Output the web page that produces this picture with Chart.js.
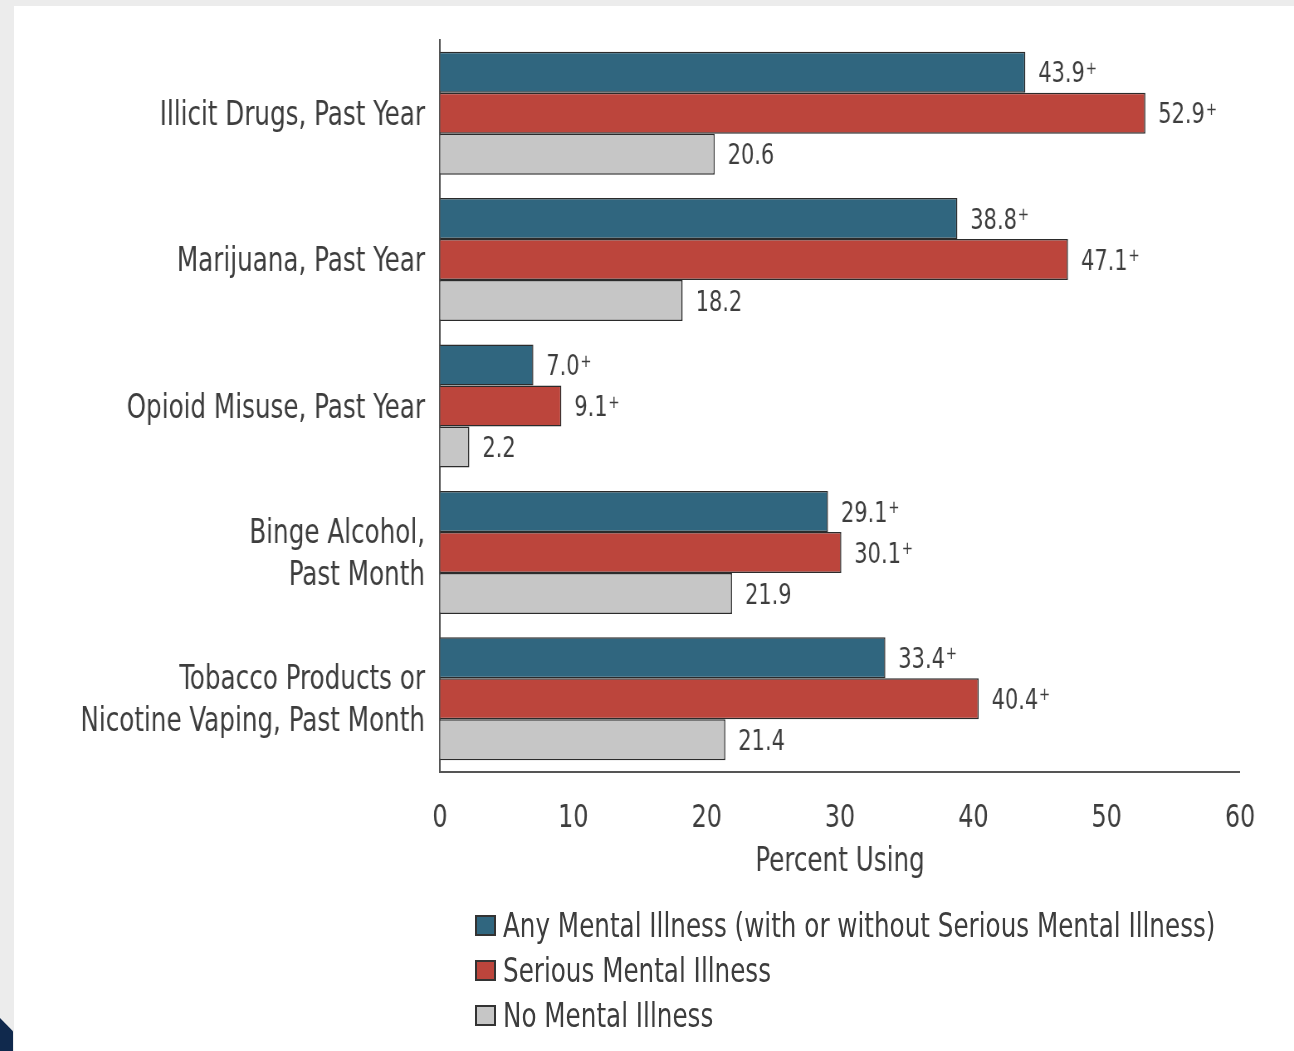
<!DOCTYPE html>
<html>
<head>
<meta charset="utf-8">
<script src="https://cdn.jsdelivr.net/npm/chart.js@4/dist/chart.umd.min.js"></script>
<style>
  html, body { margin: 0; padding: 0; }
  body { width: 1294px; height: 1051px; background: #ececec; position: relative; overflow: hidden; }
  #panel { position: absolute; left: 14px; top: 6px; width: 1280px; height: 1045px; background: #fff; overflow: hidden; }
  /* canvas is drawn wider and squeezed back, which narrows the type like the condensed face of the original */
  #wrap { position: absolute; left: 0; top: 0; width: 1542px; height: 1045px; transform: scaleX(0.83009); transform-origin: 0 0; }
  #legend { position: absolute; left: 461px; top: 897px; font-family: 'DejaVu Sans Condensed', 'DejaVu Sans', sans-serif;
            font-size: 33px; color: #3d3d3d; white-space: nowrap; }
  .item { display: flex; align-items: center; height: 45px; }
  .box { width: 17px; height: 17px; border: 2px solid #333; margin-right: 7px; flex: none; }
  .txt { display: inline-block; transform: scaleX(0.83); transform-origin: 0 50%; }
  #corner { position: absolute; left: 0; top: 1018px; width: 13px; height: 33px; background: #10294d;
            clip-path: polygon(0 0, 100% 40%, 100% 100%, 0 100%); }
</style>
</head>
<body>
<div id="panel">
  <div id="wrap"><canvas id="chart"></canvas></div>
  <div id="legend"></div>
</div>
<div id="corner"></div>
<script>
// Categories and series
const categories = [
  ['Illicit Drugs, Past Year'],
  ['Marijuana, Past Year'],
  ['Opioid Misuse, Past Year'],
  ['Binge Alcohol,', 'Past Month'],
  ['Tobacco Products or', 'Nicotine Vaping, Past Month'],
];
const seriesNames  = ['Any Mental Illness (with or without Serious Mental Illness)', 'Serious Mental Illness', 'No Mental Illness'];
const anyMI        = [43.9, 38.8, 7.0, 29.1, 33.4];
const seriousMI    = [52.9, 47.1, 9.1, 30.1, 40.4];
const noMI         = [20.6, 18.2, 2.2, 21.9, 21.4];
const anyPlus      = [true, true, true, true, true];
const seriousPlus  = [true, true, true, true, true];
const noPlus       = [false, false, false, false, false];
const xTicks       = [0, 10, 20, 30, 40, 50, 60];

const FONT  = "'DejaVu Sans Condensed', 'DejaVu Sans', sans-serif";
const K     = 1542 / 1280;   // horizontal stretch of the canvas
const TEXT  = '#3d3d3d';
const AXIS  = '#555';
const BLUE  = '#30667f';
const RED   = '#bc453c';
const GRAY  = '#c6c6c6';
const EDGE  = '#2b2b2b';

Chart.defaults.font.family = FONT;
Chart.defaults.color = TEXT;

const plusFlags = [anyPlus, seriousPlus, noPlus];

// value labels with a small raised "+" where the reference marks one
const valueLabels = {
  id: 'valueLabels',
  afterDatasetsDraw(chart) {
    const ctx = chart.ctx;
    ctx.save();
    ctx.fillStyle = TEXT;
    ctx.textBaseline = 'middle';
    ctx.textAlign = 'left';
    chart.data.datasets.forEach((ds, di) => {
      const meta = chart.getDatasetMeta(di);
      meta.data.forEach((bar, i) => {
        const txt = ds.data[i].toFixed(1);
        const x = bar.x + 13 * K;
        ctx.font = `28px ${FONT}`;
        ctx.fillText(txt, x, bar.y + 3);
        if (plusFlags[di][i]) {
          const w = ctx.measureText(txt).width;
          ctx.font = `18px ${FONT}`;
          ctx.fillText('+', x + w + 1, bar.y - 3);
        }
      });
    });
    ctx.restore();
  }
};

const colors = [BLUE, RED, GRAY];
const values = [anyMI, seriousMI, noMI];

new Chart(document.getElementById('chart'), {
  type: 'bar',
  data: {
    labels: categories,
    datasets: seriesNames.map((name, i) => ({
      label:              name,
      data:               values[i],
      backgroundColor:    colors[i],
      borderColor:        EDGE,
      borderWidth:        1.5,
      categoryPercentage: 0.84,
      barPercentage:      1,
    })),
  },
  options: {
    indexAxis:           'y',
    responsive:          true,
    maintainAspectRatio: false,
    animation:           false,
    layout: { padding: { top: 34, right: 54 * K, bottom: 169, left: 0 } },
    plugins: {
      legend:  { display: false },
      tooltip: { enabled: false },
    },
    scales: {
      x: {
        min: 0,
        max: 60,
        afterBuildTicks: axis => { axis.ticks = xTicks.map(v => ({ value: v })); },
        afterFit: axis => { axis.height = 110; },
        grid:   { display: false, drawTicks: false },
        border: { display: true, color: AXIS, width: 2 },
        ticks:  { color: TEXT, padding: 27, font: { size: 32 } },
        title:  { display: true, text: 'Percent Using', color: TEXT, font: { size: 33 }, padding: { top: 0, bottom: 0 } },
      },
      y: {
        afterFit: axis => { axis.width = 426 * K; axis.paddingTop = 0; axis.paddingBottom = 0; },
        grid:   { display: false, drawTicks: false },
        border: { display: true, color: AXIS, width: 2 },
        ticks:  { color: TEXT, padding: 15 * K, labelOffset: 3, font: { size: 33, lineHeight: 1.27 } },
      },
    },
  },
  plugins: [valueLabels],
});

// legend, stacked vertically as in the reference
const legend = document.getElementById('legend');
seriesNames.forEach((name, i) => {
  const row = document.createElement('div');
  row.className = 'item';
  const box = document.createElement('span');
  box.className = 'box';
  box.style.background = colors[i];
  const label = document.createElement('span');
  label.className = 'txt';
  label.textContent = name;
  row.appendChild(box);
  row.appendChild(label);
  legend.appendChild(row);
});
</script>
</body>
</html>
